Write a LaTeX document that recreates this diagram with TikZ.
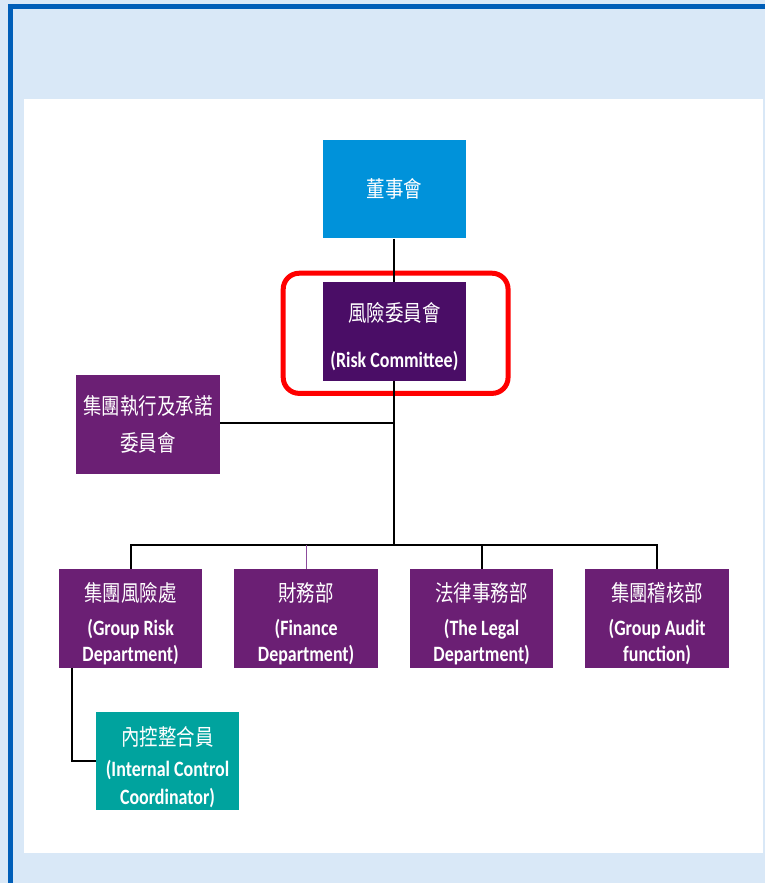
\documentclass[tikz,border=0pt]{standalone}
\usepackage{graphicx}
\usepackage{fontspec}
\setmainfont{Carlito}
\newfontfamily\cjk{Noto Sans CJK TC}
\newcommand{\tall}[1]{\scalebox{1}[1.22]{#1}}
\newcommand{\zhtext}[1]{\tall{\cjk\mdseries\fontsize{18.5}{26}\selectfont #1}}
\newcommand{\toppad}[1]{\rule{0pt}{#1}}

\definecolor{pagebg}{HTML}{D9E8F7}
\definecolor{frameblue}{HTML}{005EB8}
\definecolor{boardblue}{HTML}{0092DA}
\definecolor{riskpurple}{HTML}{4A0D66}
\definecolor{deptpurple}{HTML}{6B1F74}
\definecolor{iccteal}{HTML}{00A39E}
\definecolor{finlink}{HTML}{8C4C9C}

\begin{document}
\begin{tikzpicture}[x=1pt, y=-1pt,
    box/.style={minimum width=144pt, minimum height=99pt, inner sep=0pt,
        text=white, align=center, font=\bfseries\fontsize{18}{26}\selectfont},
    link/.style={black, line width=2pt}]
    % background and frame
    \fill[pagebg] (0,0) rectangle (767,885);
    \draw[frameblue, line width=5pt] (10.5,885) -- (10.5,6.5) -- (767,6.5);
    \fill[white] (24,99) rectangle (765,855);

    % board and risk committee
    \node[box, fill=boardblue] (board) at (395.5,189.5) {\zhtext{董事會}};
    \node[box, fill=riskpurple] (risk) at (395.5,332.5) {\toppad{30pt}\zhtext{風險委員會}\\[20pt] \tall{(Risk Committee)}};
    \draw[red, line width=5pt, rounded corners=16pt] (284,274) rectangle (509.5,394.5);

    % executive committee
    \node[box, fill=deptpurple] (exec) at (148.5,426) {\toppad{19pt}\zhtext{集團執行及承諾}\\[11pt] \zhtext{委員會}};

    % departments
    \node[box, fill=deptpurple] (grd) at (131,620) {\toppad{30pt}\zhtext{集團風險處}\\[8pt] \tall{(Group Risk}\\ \tall{Department)}};
    \node[box, fill=deptpurple] (fin) at (307,620) {\toppad{30pt}\zhtext{財務部}\\[8pt] \tall{(Finance}\\ \tall{Department)}};
    \node[box, fill=deptpurple] (legal) at (483,620) {\toppad{30pt}\zhtext{法律事務部}\\[8pt] \tall{(The Legal}\\ \tall{Department)}};
    \node[box, fill=deptpurple] (audit) at (659,620) {\toppad{30pt}\zhtext{集團稽核部}\\[8pt] \tall{(Group Audit}\\ \tall{function)}};
    \node[box, fill=iccteal, minimum height=98pt, font=\bfseries\fontsize{18}{28}\selectfont] (icc) at (168,763)
        {\toppad{32pt}\zhtext{內控整合員}\\[3pt] \tall{(Internal Control}\\ \tall{Coordinator)}};

    % connectors
    \coordinate (bus) at (395.5,547);
    \draw[link] (board) -- (risk);
    \draw[link] (risk) -- (bus);
    \draw[link] ([yshift=2pt]exec.east) -- ([yshift=2pt]exec.east -| risk.south);
    \draw[link] (grd.north) |- (bus) -| (audit.north);
    \draw[link] (legal.north) -- (legal.north |- bus);
    \draw[finlink, line width=1pt] (fin.north) -- (fin.north |- bus);
    \draw[link] ([xshift=13pt]grd.south west) |- (icc.west);
\end{tikzpicture}
\end{document}
